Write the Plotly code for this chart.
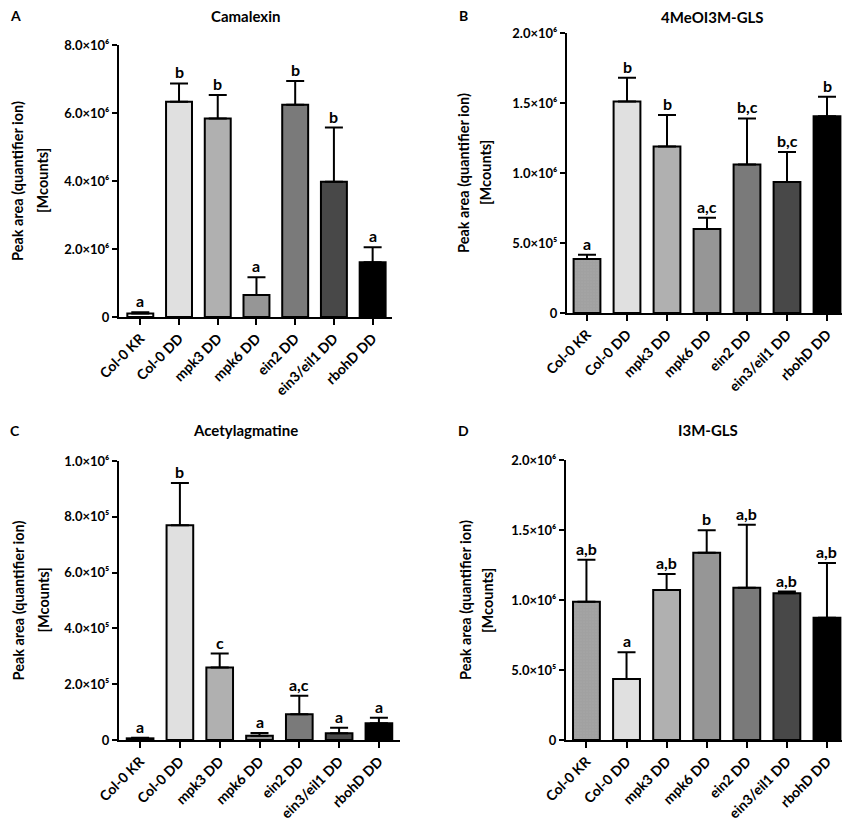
import plotly.graph_objects as go

W, H = 850, 823
OFF = 8  # page body margin that shifts the figure in the browser

genotypes = ["Col-0 KR", "Col-0 DD", "mpk3 DD", "mpk6 DD", "ein2 DD", "ein3/eil1 DD", "rbohD DD"]
bar_colors = ["#ffffff", "#e0e0e0", "#b0b0b0", "#969696", "#7a7a7a", "#484848", "#000000"]

# panel A - Camalexin
cam_mean = [0.10e6, 6.33e6, 5.84e6, 0.65e6, 6.24e6, 3.98e6, 1.61e6]
cam_err = [0.04e6, 0.54e6, 0.69e6, 0.52e6, 0.70e6, 1.59e6, 0.44e6]
cam_sig = ["a", "b", "b", "a", "b", "b", "a"]

# panel B - 4MeOI3M-GLS
meo_mean = [0.386e6, 1.511e6, 1.19e6, 0.60e6, 1.06e6, 0.936e6, 1.405e6]
meo_err = [0.03e6, 0.17e6, 0.225e6, 0.08e6, 0.33e6, 0.214e6, 0.14e6]
meo_sig = ["a", "b", "b", "a,c", "b,c", "b,c", "b"]

# panel C - Acetylagmatine
ace_mean = [0.006e6, 0.77e6, 0.26e6, 0.015e6, 0.092e6, 0.024e6, 0.06e6]
ace_err = [0.002e6, 0.151e6, 0.05e6, 0.01e6, 0.067e6, 0.02e6, 0.02e6]
ace_sig = ["a", "b", "c", "a", "a,c", "a", "a"]

# panel D - I3M-GLS
i3m_mean = [0.988e6, 0.436e6, 1.071e6, 1.338e6, 1.088e6, 1.048e6, 0.874e6]
i3m_err = [0.30e6, 0.19e6, 0.115e6, 0.16e6, 0.45e6, 0.012e6, 0.39e6]
i3m_sig = ["a,b", "a", "a,b", "b", "a,b", "a,b", "a,b"]

ticks_A = [0, 2e6, 4e6, 6e6, 8e6]
ticklab_A = ["0", "2.0×10⁶", "4.0×10⁶", "6.0×10⁶", "8.0×10⁶"]
ticks_B = [0, 0.5e6, 1.0e6, 1.5e6, 2.0e6]
ticklab_B = ["0", "5.0×10⁵", "1.0×10⁶", "1.5×10⁶", "2.0×10⁶"]
ticks_C = [0, 2e5, 4e5, 6e5, 8e5, 1e6]
ticklab_C = ["0", "2.0×10⁵", "4.0×10⁵", "6.0×10⁵", "8.0×10⁵", "1.0×10⁶"]

FONT = "Lato, 'Open Sans', sans-serif"


def px(x):
    return (x - OFF) / W


def py(y):
    return 1 - (y - OFF) / H


# pixel boxes of each plot area: (x0, x1, ytop, ybottom), x range
panels = [
    dict(letter="A", title="Camalexin", mean=cam_mean, err=cam_err, sig=cam_sig,
         box=(119, 392, 45, 317), xr=[-0.55, 6.5], ymax=8e6, tv=ticks_A, tt=ticklab_A,
         title_xy=(245, 16), letter_xy=(15, 16), ylab_x=(18, 43), pattern=False),
    dict(letter="B", title="4MeOI3M-GLS", mean=meo_mean, err=meo_err, sig=meo_sig,
         box=(567, 845, 33, 313), xr=[-0.5, 6.45], ymax=2e6, tv=ticks_B, tt=ticklab_B,
         title_xy=(712, 17), letter_xy=(463, 16), ylab_x=(464, 486), pattern=True),
    dict(letter="C", title="Acetylagmatine", mean=ace_mean, err=ace_err, sig=ace_sig,
         box=(119, 400, 461, 740), xr=[-0.53, 6.53], ymax=1e6, tv=ticks_C, tt=ticklab_C,
         title_xy=(245, 430), letter_xy=(15, 430), ylab_x=(18, 43), pattern=False),
    dict(letter="D", title="I3M-GLS", mean=i3m_mean, err=i3m_err, sig=i3m_sig,
         box=(566, 843, 460, 740), xr=[-0.51, 6.4], ymax=2e6, tv=ticks_B, tt=ticklab_B,
         title_xy=(708, 430), letter_xy=(463, 430), ylab_x=(465, 487), pattern=True),
]

fig = go.Figure()
annotations = []
layout_axes = {}

for i, p in enumerate(panels):
    n = i + 1
    xa = "x" if n == 1 else "x%d" % n
    ya = "y" if n == 1 else "y%d" % n
    x0, x1, yt, yb = p["box"]

    # checkered fill only for Col-0 KR in panels B and D
    pat_shapes = ["." if (j == 0 and p["pattern"]) else "" for j in range(len(genotypes))]
    fig.add_trace(go.Bar(
        x=genotypes, y=p["mean"], xaxis=xa, yaxis=ya, width=0.67,
        marker=dict(color=bar_colors, line=dict(color="black", width=2),
                    pattern=dict(shape=pat_shapes, size=3, solidity=0.9,
                                 fgcolor="black", bgcolor="#ffffff")),
        error_y=dict(type="data", symmetric=False, array=p["err"],
                     arrayminus=[0] * len(genotypes), color="black",
                     thickness=2, width=9),
        showlegend=False,
    ))

    layout_axes["xaxis" if n == 1 else "xaxis%d" % n] = dict(
        domain=[px(x0), px(x1)], anchor=ya, range=p["xr"], automargin=False,
        showline=True, linecolor="black", linewidth=2,
        ticks="outside", ticklen=6, tickwidth=2, tickcolor="black",
        tickangle=-45, tickfont=dict(family=FONT, size=14, color="black", weight="bold"),
        showgrid=False, zeroline=False, fixedrange=True,
    )
    layout_axes["yaxis" if n == 1 else "yaxis%d" % n] = dict(
        domain=[py(yb), py(yt)], anchor=xa, range=[0, p["ymax"]], automargin=False,
        tickvals=p["tv"], ticktext=p["tt"],
        showline=True, linecolor="black", linewidth=2,
        ticks="outside", ticklen=5, tickwidth=2, tickcolor="black",
        tickfont=dict(family=FONT, size=13, color="black", weight="bold"),
        showgrid=False, zeroline=False, fixedrange=True,
    )

    # significance letters above the error bars
    for g, m, e, s in zip(genotypes, p["mean"], p["err"], p["sig"]):
        annotations.append(dict(
            x=g, y=m + e, xref=xa, yref=ya, text="<b>%s</b>" % s,
            showarrow=False, yanchor="bottom", yshift=0,
            font=dict(family=FONT, size=16, color="black"),
        ))

    tx, ty = p["title_xy"]
    annotations.append(dict(
        x=px(tx), y=py(ty), xref="paper", yref="paper", text="<b>%s</b>" % p["title"],
        showarrow=False, xanchor="center", yanchor="middle",
        font=dict(family=FONT, size=15, color="black"),
    ))
    lx, ly = p["letter_xy"]
    annotations.append(dict(
        x=px(lx), y=py(ly), xref="paper", yref="paper", text="<b>%s</b>" % p["letter"],
        showarrow=False, xanchor="center", yanchor="middle",
        font=dict(family=FONT, size=14, color="black"),
    ))
    for line, lxp in zip(["Peak area (quantifier ion)", "[Mcounts]"], p["ylab_x"]):
        annotations.append(dict(
            x=px(lxp), y=py((yt + yb) / 2), xref="paper", yref="paper",
            text="<b>%s</b>" % line, textangle=-90,
            showarrow=False, xanchor="center", yanchor="middle",
            font=dict(family=FONT, size=14.5, color="black"),
        ))

fig.update_layout(
    width=W, height=H, margin=dict(l=0, r=0, t=0, b=0, autoexpand=False),
    paper_bgcolor="white", plot_bgcolor="white",
    bargap=0.33, annotations=annotations, **layout_axes,
)

fig.write_html("out.html")
